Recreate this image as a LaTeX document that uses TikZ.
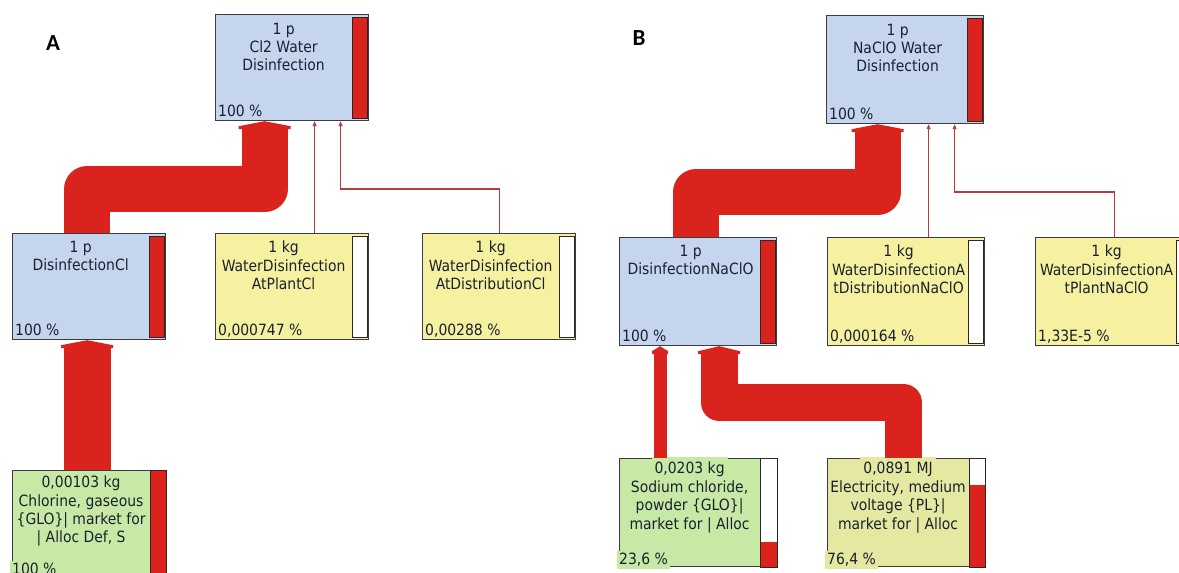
\documentclass[tikz,border=0pt]{standalone}
\usepackage{fontspec}
\setmainfont{DejaVu Sans Condensed}
\newfontfamily\panelfont{Carlito}
\usetikzlibrary{arrows.meta}

\begin{document}
\begin{tikzpicture}[x=1pt, y=-1pt,
    box/.style={draw=boxline, line width=1.2pt, inner sep=0pt, anchor=north west,
        minimum width=153pt, minimum height=106pt},
    boxB/.style={box, minimum width=157pt, minimum height=108pt},
    lbl/.style={font=\fontsize{15.5}{18.3}\selectfont, text=inktext, align=center,
        anchor=north, inner sep=0pt},
    qty/.style={lbl, inner xsep=3pt, inner ysep=5pt},
    pct/.style={font=\fontsize{15.5}{18.3}\selectfont, text=inktext, anchor=base west,
        inner sep=0pt},
    pctcut/.style={pct, inner sep=2pt},
    barbox/.style={draw=barline, line width=0.9pt},
    flow/.style={draw=flowred, line join=round},
    link/.style={draw=linkred, line width=1.1pt, -{Triangle[length=5pt,width=4pt]}},
    panel/.style={font=\panelfont\fontsize{23}{26}\selectfont\bfseries, inner sep=0pt}]

    % Định nghĩa màu sắc
    \definecolor{procblue}{RGB}{197,213,238}
    \definecolor{procyellow}{RGB}{246,241,160}
    \definecolor{procgreen}{RGB}{200,233,166}
    \definecolor{procolive}{RGB}{228,232,160}
    \definecolor{flowred}{RGB}{218,35,28}
    \definecolor{linkred}{RGB}{178,62,60}
    \definecolor{boxline}{RGB}{58,60,66}
    \definecolor{barline}{RGB}{52,36,36}
    \definecolor{inktext}{RGB}{26,32,46}

    % Đầu mũi tên của dòng chảy
    \def\flowhead#1#2{\fill[flowred] (#1) -- ++(#2,5) -- ++(0,3) -- ++(-2*#2,0) -- ++(0,-3) -- cycle;}

    \useasboundingbox (0,0) rectangle (1179,573);
    \clip (0,0) rectangle (1179,573);
    \fill[white] (0,0) rectangle (1179,573);

    % ---------------- Hình A ----------------
    \node[panel] (lblA) at (53,43) {A};

    % Các hộp
    \node[box, fill=procblue] (cltop) at (215,14) {};
    \draw[barbox, fill=flowred] ([xshift=-17pt,yshift=-3pt]cltop.north east) rectangle ([xshift=-2pt,yshift=3pt]cltop.south east);
    \node[lbl] (cltoptxt) at ([xshift=-8.5pt,yshift=-8.5pt]cltop.north) {1 p\\Cl2 Water\\Disinfection};
    \node[pct] (cltoppct) at ([xshift=3pt,yshift=5pt]cltop.south west) {100 \%};

    \node[box, fill=procblue] (discl) at (12,233) {};
    \draw[barbox, fill=flowred] ([xshift=-17pt,yshift=-3pt]discl.north east) rectangle ([xshift=-2pt,yshift=3pt]discl.south east);
    \node[lbl] (discltxt) at ([xshift=-8.5pt,yshift=-8pt]discl.north) {1 p\\DisinfectionCl};
    \node[pct] (disclpct) at ([xshift=3pt,yshift=5pt]discl.south west) {100 \%};

    \node[box, fill=procyellow] (plantcl) at (215,233) {};
    \draw[barbox, fill=white] ([xshift=-17pt,yshift=-3pt]plantcl.north east) rectangle ([xshift=-2pt,yshift=3pt]plantcl.south east);
    \node[lbl] (plantcltxt) at ([xshift=-8.5pt,yshift=-8pt]plantcl.north) {1 kg\\WaterDisinfection\\AtPlantCl};
    \node[pct] (plantclpct) at ([xshift=3pt,yshift=5pt]plantcl.south west) {0,000747 \%};

    \node[box, fill=procyellow] (distcl) at (422,233) {};
    \draw[barbox, fill=white] ([xshift=-17pt,yshift=-3pt]distcl.north east) rectangle ([xshift=-2pt,yshift=3pt]distcl.south east);
    \node[lbl] (distcltxt) at ([xshift=-8.5pt,yshift=-8pt]distcl.north) {1 kg\\WaterDisinfection\\AtDistributionCl};
    \node[pct] (distclpct) at ([xshift=3pt,yshift=5pt]distcl.south west) {0,00288 \%};

    \node[box, fill=procgreen] (chlor) at (12,470) {};
    \draw[barbox, fill=flowred] ([xshift=-16pt]chlor.north east) rectangle (chlor.south east);
    \node[qty, fill=procgreen] (chlorqty) at ([xshift=-8pt,yshift=-1pt]chlor.north) {0,00103 kg};
    \node[lbl] (chlortxt) at ([xshift=-8pt,yshift=-24.3pt]chlor.north) {Chlorine, gaseous\\\{GLO\}| market for\\| Alloc Def, S};
    \node[pctcut, fill=procgreen] (chlorpct) at ([xshift=-2pt,yshift=2.5pt]chlor.south west) {100 \%};

    % Dòng chảy
    \draw[flow, line width=47pt] ([xshift=-2pt]chlor.north) -- ([xshift=-2pt,yshift=-8pt]discl.south);
    \flowhead{[xshift=-2pt]discl.south}{26}
    \draw[flow, line width=46pt] ([xshift=-2pt]discl.north) -- ++(0,-44) -| ([xshift=-27.5pt,yshift=-8pt]cltop.south);
    \flowhead{[xshift=-27.5pt]cltop.south}{26}
    \draw[link] ([xshift=22.5pt]plantcl.north) -- ([xshift=22.5pt]plantcl.north |- cltop.south);
    \draw[link] (distcl.north) -- ++(0,-44) -| ([xshift=48.5pt]cltop.south);

    % ---------------- Hình B ----------------
    \node[panel] (lblB) at (639,38) {B};

    % Các hộp
    \node[boxB, fill=procblue] (naclotop) at (826,15) {};
    \draw[barbox, fill=flowred] ([xshift=-17pt,yshift=-3pt]naclotop.north east) rectangle ([xshift=-2pt,yshift=3pt]naclotop.south east);
    \node[lbl] (naclotoptxt) at ([xshift=-7.5pt,yshift=-8.5pt]naclotop.north) {1 p\\NaClO Water\\Disinfection};
    \node[pct] (naclotoppct) at ([xshift=3pt,yshift=5pt]naclotop.south west) {100 \%};

    \node[boxB, fill=procblue] (disnaclo) at (619,237) {};
    \draw[barbox, fill=flowred] ([xshift=-17pt,yshift=-3pt]disnaclo.north east) rectangle ([xshift=-2pt,yshift=3pt]disnaclo.south east);
    \node[lbl] (disnaclotxt) at ([xshift=-7.5pt,yshift=-8pt]disnaclo.north) {1 p\\DisinfectionNaClO};
    \node[pct] (disnaclopct) at ([xshift=3pt,yshift=5pt]disnaclo.south west) {100 \%};

    \node[boxB, fill=procyellow] (distnaclo) at (827,237) {};
    \draw[barbox, fill=white] ([xshift=-17pt,yshift=-3pt]distnaclo.north east) rectangle ([xshift=-2pt,yshift=3pt]distnaclo.south east);
    \node[lbl] (distnaclotxt) at ([xshift=-7.5pt,yshift=-8pt]distnaclo.north) {1 kg\\WaterDisinfectionA\\tDistributionNaClO};
    \node[pct] (distnaclopct) at ([xshift=3pt,yshift=5pt]distnaclo.south west) {0,000164 \%};

    \node[boxB, fill=procyellow] (plantnaclo) at (1035,237) {};
    \draw[barbox, fill=white] ([xshift=-17pt,yshift=-3pt]plantnaclo.north east) rectangle ([xshift=-2pt,yshift=3pt]plantnaclo.south east);
    \node[lbl] (plantnaclotxt) at ([xshift=-7.5pt,yshift=-8pt]plantnaclo.north) {1 kg\\WaterDisinfectionA\\tPlantNaClO};
    \node[pct] (plantnaclopct) at ([xshift=3pt,yshift=5pt]plantnaclo.south west) {1,33E-5 \%};

    \node[boxB, fill=procgreen] (nacl) at (619,458) {};
    \fill[white] ([xshift=-17pt]nacl.north east) rectangle (nacl.south east);
    \fill[flowred] ([xshift=-17pt]nacl.south east) rectangle ([yshift=25.5pt]nacl.south east);
    \draw[barbox] ([xshift=-17pt]nacl.north east) rectangle (nacl.south east);
    \node[qty, fill=procgreen] (naclqty) at ([xshift=-8.5pt,yshift=1pt]nacl.north) {0,0203 kg};
    \node[lbl] (nacltxt) at ([xshift=-8.5pt,yshift=-22.5pt]nacl.north) {Sodium chloride,\\powder \{GLO\}|\\market for | Alloc};
    \node[pctcut, fill=procgreen] (naclpct) at ([xshift=-2pt,yshift=2.5pt]nacl.south west) {23,6 \%};

    \node[boxB, fill=procolive] (elec) at (827,458) {};
    \fill[white] ([xshift=-16pt]elec.north east) rectangle (elec.south east);
    \fill[flowred] ([xshift=-16pt]elec.south east) rectangle ([yshift=82.5pt]elec.south east);
    \draw[barbox] ([xshift=-16pt]elec.north east) rectangle (elec.south east);
    \node[qty, fill=procolive] (elecqty) at ([xshift=-8pt,yshift=1pt]elec.north) {0,0891 MJ};
    \node[lbl] (electxt) at ([xshift=-8pt,yshift=-22.5pt]elec.north) {Electricity, medium\\voltage \{PL\}|\\market for | Alloc};
    \node[pctcut, fill=procolive] (elecpct) at ([xshift=-2pt,yshift=2.5pt]elec.south west) {76,4 \%};

    % Dòng chảy
    \draw[flow, line width=46pt] ([xshift=-2pt]disnaclo.north) -- ++(0,-45) -| ([xshift=-27.5pt,yshift=-8pt]naclotop.south);
    \flowhead{[xshift=-27.5pt]naclotop.south}{26}
    \draw[flow, line width=13pt] ([xshift=-38pt]nacl.north) -- ([xshift=-38pt,yshift=-8pt]disnaclo.south);
    \flowhead{[xshift=-38pt]disnaclo.south}{8}
    \draw[flow, line width=37pt] ([xshift=-2.5pt]elec.north) -- ++(0,-55.5) -| ([xshift=21pt,yshift=-8pt]disnaclo.south);
    \flowhead{[xshift=21pt]disnaclo.south}{21}
    \draw[link] ([xshift=22.5pt]distnaclo.north) -- ([xshift=22.5pt]distnaclo.north |- naclotop.south);
    \draw[link] (plantnaclo.north) -- ++(0,-45) -| ([xshift=49.5pt]naclotop.south);
\end{tikzpicture}
\end{document}
